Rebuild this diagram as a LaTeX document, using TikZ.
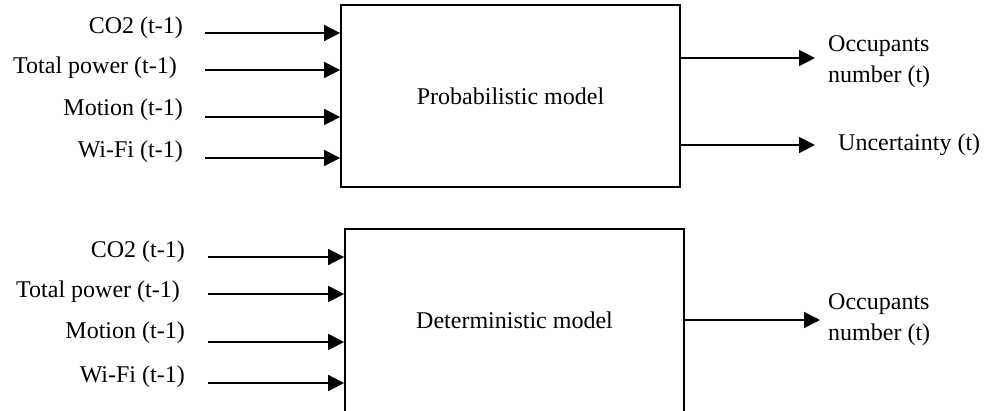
\documentclass[tikz,border=0pt]{standalone}
\usepackage{fontspec}
\setmainfont{Liberation Serif}
\usetikzlibrary{arrows.meta}
\begin{document}
\begin{tikzpicture}[x=1pt,y=-1pt,
  lbl/.style={font=\fontsize{24}{31}\selectfont, inner sep=0pt, text=black},
  modelbox/.style={draw, line width=1.8pt, minimum width=339pt, minimum height=182pt, inner sep=0pt, font=\fontsize{24}{31}\selectfont},
  arr/.style={line width=1.8pt, -{Triangle[length=16pt,width=16pt]}}]
\useasboundingbox (0,0) rectangle (988,410);
\clip (0,0) rectangle (988,410);
% top model
\node[modelbox] (P) at (510.5,96) {Probabilistic model};
\node[lbl, anchor=east] (p1) at (183,28) {CO2 (t-1)};
\node[lbl, anchor=east] (p2) at (177,68) {Total power (t-1)};
\node[lbl, anchor=east] (p3) at (183,110) {Motion (t-1)};
\node[lbl, anchor=east] (p4) at (183,152) {Wi-Fi (t-1)};
\coordinate (ps1) at (205,33);
\coordinate (ps2) at (205,70);
\coordinate (ps3) at (205,117);
\coordinate (ps4) at (205,158);
\foreach \i in {1,2,3,4} \draw[arr] (ps\i) -- (ps\i -| P.west);
\coordinate (po1) at (815,58);
\coordinate (po2) at (815,145);
\draw[arr] (po1 -| P.east) -- (po1);
\draw[arr] (po2 -| P.east) -- (po2);
\node[lbl, anchor=west, align=left] (pq1) at (828,62) {Occupants\\number (t)};
\node[lbl, anchor=west] (pq2) at (838,145) {Uncertainty (t)};
% bottom model (its lower edge lies below the picture)
\node[modelbox, minimum height=200pt] (D) at (514.5,329) {};
\node[lbl] (Dt) at (514.5,320) {Deterministic model};
\node[lbl, anchor=east] (d1) at (185,252) {CO2 (t-1)};
\node[lbl, anchor=east] (d2) at (180,292) {Total power (t-1)};
\node[lbl, anchor=east] (d3) at (185,333) {Motion (t-1)};
\node[lbl, anchor=east] (d4) at (185,377) {Wi-Fi (t-1)};
\coordinate (ds1) at (208,257);
\coordinate (ds2) at (208,294);
\coordinate (ds3) at (208,342);
\coordinate (ds4) at (208,383);
\foreach \i in {1,2,3,4} \draw[arr] (ds\i) -- (ds\i -| D.west);
\coordinate (do1) at (820,320);
\draw[arr] (do1 -| D.east) -- (do1);
\node[lbl, anchor=west, align=left] (dq1) at (828,320) {Occupants\\number (t)};
\end{tikzpicture}
\end{document}
